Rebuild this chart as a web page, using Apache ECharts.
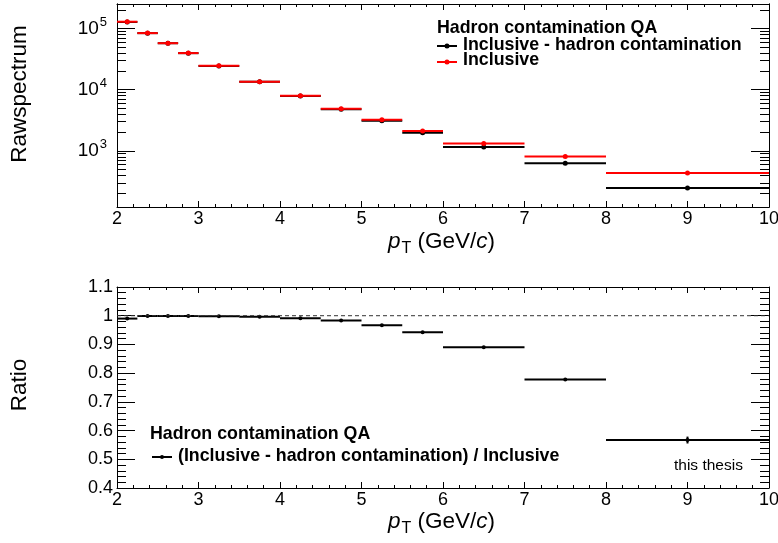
<!DOCTYPE html>
<html>
<head>
<meta charset="utf-8">
<script src="https://cdn.jsdelivr.net/npm/echarts@6/dist/echarts.min.js"></script>
<style>
html, body { margin: 0; padding: 0; background: #fff; }
#chart { width: 778px; height: 543px; }
</style>
</head>
<body>
<div id="chart"></div>
<script>
// pT bins (GeV/c)
var binLo = [2, 2.25, 2.5, 2.75, 3, 3.5, 4, 4.5, 5, 5.5, 6, 7, 8];
var binHi = [2.25, 2.5, 2.75, 3, 3.5, 4, 4.5, 5, 5.5, 6, 7, 8, 10];

// raw spectrum
var inclusive = [129000, 84000, 57500, 39600, 24500, 13500, 7970, 4870, 3210, 2100, 1320, 806, 436];
var inclMinusHadron = [127600, 83900, 57400, 39500, 24450, 13450, 7900, 4790, 3100, 1980, 1160, 628, 246];

// ratio panel
var ratio = [0.990, 0.999, 0.999, 0.999, 0.998, 0.996, 0.991, 0.983, 0.967, 0.942, 0.890, 0.778, 0.567];
var ratioErr = [0.002, 0.001, 0.001, 0.001, 0.001, 0.001, 0.001, 0.001, 0.002, 0.002, 0.003, 0.005, 0.012];

// axes
var logMajor = [3, 4, 5];
var logMin = 2.082, logMax = 5.40;

var fam = 'Liberation Sans, Arial, Helvetica, sans-serif';

// minor ticks of the log axis: 2..9 x 10^n
var logMinor = [];
for (var n = 2; n <= 5; n++) {
    for (var k = 2; k <= 9; k++) {
        var v = Math.log10(k) + n;
        if (v > logMin && v < logMax) logMinor.push(v);
    }
}

var chart = echarts.init(document.getElementById('chart'));

function binRender(color, width, radius) {
    return function (params, api) {
        var y = api.value(2);
        var mid = (api.value(0) + api.value(1)) / 2;
        var a = api.coord([api.value(0), y]);
        var b = api.coord([api.value(1), y]);
        var c = api.coord([mid, y]);
        var kids = [
            { type: 'line', shape: { x1: a[0], y1: a[1], x2: b[0], y2: b[1] }, style: { stroke: color, lineWidth: width } },
            { type: 'circle', shape: { cx: c[0], cy: c[1], r: radius }, style: { fill: color } }
        ];
        var e = api.value(3);
        if (e) {
            var p = api.coord([mid, y + e]), q = api.coord([mid, y - e]);
            kids.push({ type: 'line', shape: { x1: p[0], y1: p[1], x2: q[0], y2: q[1] }, style: { stroke: color, lineWidth: width } });
        }
        return { type: 'group', children: kids };
    };
}

function logData(vals) {
    return binLo.map(function (lo, i) { return [lo, binHi[i], Math.log10(vals[i]), 0]; });
}
var ratioData = binLo.map(function (lo, i) { return [lo, binHi[i], ratio[i], ratioErr[i]]; });

var lineBlack = { show: true, onZero: false, lineStyle: { color: '#000', width: 1 } };

function xAxis(grid, pos, labels) {
    return {
        gridIndex: grid, type: 'value', position: pos, min: 2, max: 10, interval: 1,
        axisLine: lineBlack,
        axisTick: { show: true, inside: true, length: 6, lineStyle: { color: '#000' } },
        minorTick: { show: true, splitNumber: 5, length: 3, lineStyle: { color: '#000' } },
        axisLabel: { show: labels, color: '#000', fontSize: 18, fontFamily: fam, margin: 3 },
        splitLine: { show: false }
    };
}

function logAxis(pos, ticks, len, labels) {
    return {
        gridIndex: 0, type: 'value', position: pos, min: logMin, max: logMax,
        axisLine: lineBlack,
        axisTick: { show: true, inside: true, length: len, customValues: ticks, lineStyle: { color: '#000' } },
        axisLabel: {
            show: labels, customValues: logMajor, color: '#000', fontSize: 19, fontFamily: fam, margin: 10,
            formatter: function (v) { return '10{sup|' + Math.round(v) + '}'; },
            rich: { sup: { fontSize: 13, fontFamily: fam, color: '#000', padding: [0, 0, 12, 1] } }
        },
        splitLine: { show: false }
    };
}

function ratioAxis(pos, labels) {
    return {
        gridIndex: 1, type: 'value', position: pos, min: 0.4, max: 1.1, interval: 0.1,
        axisLine: lineBlack,
        axisTick: { show: true, inside: true, length: 18, lineStyle: { color: '#000' } },
        minorTick: { show: true, splitNumber: 5, length: 9, lineStyle: { color: '#000' } },
        axisLabel: {
            show: labels, color: '#000', fontSize: 18, fontFamily: fam, margin: 4,
            formatter: function (v) { return String(Math.round(v * 10) / 10); }
        },
        splitLine: { show: false }
    };
}

var titleRich = {
    i: { fontStyle: 'italic', fontSize: 22.5, fontFamily: fam, color: '#000' },
    s: { fontSize: 16, fontFamily: fam, color: '#000', padding: [13, 0, 0, 1] }
};
var legendBold = { fontSize: 17.8, fontWeight: 'bold', fontFamily: fam, fill: '#000', verticalAlign: 'middle' };

function legendRow(x, y, color, r, label, ty) {
    return [
        { type: 'line', shape: { x1: x, y1: y, x2: x + 20, y2: y }, style: { stroke: color, lineWidth: 2 } },
        { type: 'circle', shape: { cx: x + 10, cy: y, r: r }, style: { fill: color } },
        { type: 'text', x: x + 26, y: ty, style: Object.assign({ text: label }, legendBold) }
    ];
}

var option = {
    animation: false,
    backgroundColor: '#fff',
    grid: [
        { left: 117, right: 9, top: 4, height: 203, outerBoundsMode: 'none' },
        { left: 117, right: 9, top: 287, height: 201, outerBoundsMode: 'none' }
    ],
    xAxis: [
        xAxis(0, 'bottom', true),
        xAxis(0, 'top', false),
        xAxis(1, 'bottom', true),
        xAxis(1, 'top', false)
    ],
    yAxis: [
        logAxis('left', logMajor, 18, true),
        logAxis('right', logMajor, 18, false),
        logAxis('left', logMinor, 9, false),
        logAxis('right', logMinor, 9, false),
        ratioAxis('left', true),
        ratioAxis('right', false)
    ],
    series: [
        {
            type: 'custom', name: 'Inclusive - hadron contamination', xAxisIndex: 0, yAxisIndex: 0,
            renderItem: binRender('#000', 2, 2.5), encode: { x: [0, 1], y: 2 }, data: logData(inclMinusHadron)
        },
        {
            type: 'custom', name: 'Inclusive', xAxisIndex: 0, yAxisIndex: 0,
            renderItem: binRender('#ff0000', 2, 2.5), encode: { x: [0, 1], y: 2 }, data: logData(inclusive)
        },
        {
            type: 'line', xAxisIndex: 2, yAxisIndex: 4, symbol: 'none', silent: true,
            lineStyle: { color: '#333', width: 1, type: [4, 3] },
            data: [[2, 1], [10, 1]]
        },
        {
            type: 'custom', name: 'ratio', xAxisIndex: 2, yAxisIndex: 4,
            renderItem: binRender('#000', 2, 2), encode: { x: [0, 1], y: 2 }, data: ratioData
        }
    ],
    graphic: [
        { type: 'text', x: 20, y: 94, rotation: Math.PI / 2,
          style: { text: 'Rawspectrum', fontSize: 22.5, fontFamily: fam, fill: '#000', align: 'center', verticalAlign: 'middle' } },
        { type: 'text', x: 20, y: 385, rotation: Math.PI / 2,
          style: { text: 'Ratio', fontSize: 22.5, fontFamily: fam, fill: '#000', align: 'center', verticalAlign: 'middle' } },
        { type: 'text', x: 388, y: 242,
          style: { text: '{i|p}{s|T} (GeV/{i|c})', rich: titleRich, fontSize: 22.5, fontFamily: fam, fill: '#000', verticalAlign: 'middle' } },
        { type: 'text', x: 388, y: 522,
          style: { text: '{i|p}{s|T} (GeV/{i|c})', rich: titleRich, fontSize: 22.5, fontFamily: fam, fill: '#000', verticalAlign: 'middle' } },
        { type: 'text', x: 437, y: 28, style: Object.assign({ text: 'Hadron contamination QA' }, legendBold) },
        { type: 'group', children: legendRow(437, 46, '#000', 2.5, 'Inclusive - hadron contamination', 45) },
        { type: 'group', children: legendRow(437, 62, '#ff0000', 2.5, 'Inclusive', 60) },
        { type: 'text', x: 150, y: 434, style: Object.assign({ text: 'Hadron contamination QA' }, legendBold) },
        { type: 'group', children: legendRow(152, 457, '#000', 2, '(Inclusive - hadron contamination) / Inclusive', 456) },
        { type: 'text', x: 674, y: 466,
          style: { text: 'this thesis', fontSize: 15.5, fontFamily: fam, fill: '#000', verticalAlign: 'middle' } }
    ]
};

chart.setOption(option);
</script>
</body>
</html>
